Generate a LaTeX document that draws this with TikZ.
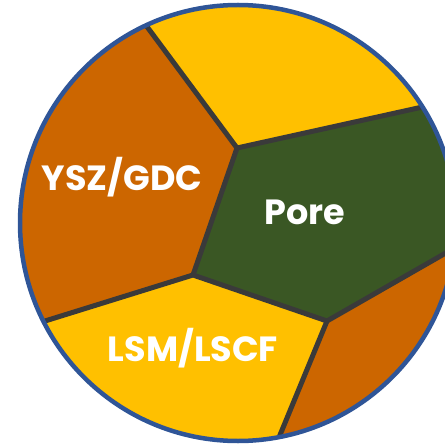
\documentclass[tikz,border=0pt]{standalone}
\usepackage{fontspec}
\setmainfont{Poppins}
\usetikzlibrary{calc}
\definecolor{ysz}{HTML}{CC6600}
\definecolor{lsm}{HTML}{FFC000}
\definecolor{pore}{HTML}{3A5724}
\definecolor{edge}{HTML}{3A3A3A}
\definecolor{rim}{HTML}{2F5597}
\tikzset{
  wall/.style={draw=edge, line width=5pt, line join=round},
  label/.style={text=white, font=\fontsize{35}{40}\selectfont\bfseries, inner sep=0pt}
}
\begin{document}
\begin{tikzpicture}[x=1pt,y=-1pt]
\useasboundingbox (0,0) rectangle (444,446);
\coordinate (O) at (238,223);
\coordinate (A) at (148,28);
\coordinate (B) at (237,148);
\coordinate (C) at (418,108);
\coordinate (D) at (193,275);
\coordinate (E) at (45,321);
\coordinate (F) at (327,321);
\coordinate (G) at (444,254);
\coordinate (H) at (280,435);
\coordinate (Ax) at ($(B)!1.4!(A)$);
\coordinate (Cx) at ($(B)!1.3!(C)$);
\coordinate (Ex) at ($(D)!1.4!(E)$);
\coordinate (Gx) at ($(F)!1.6!(G)$);
\coordinate (Hx) at ($(F)!1.4!(H)$);
\begin{scope}
  \clip (O) circle (218);
  \fill[ysz] (O) circle (220);
  \fill[lsm] (Ax) -- (B) -- (Cx) -- (Cx |- 0,-40) -- (Ax |- 0,-40) -- cycle;
  \fill[pore] (B) -- (Cx) -- ++(60,0) -- (Gx) -- (F) -- (D) -- cycle;
  \fill[lsm] (Ex) -- (D) -- (F) -- (Hx) -- (Hx |- 0,480) -- (-40,480) -- (-40,0 |- Ex) -- cycle;
  \draw[wall] (Ax) -- (B) -- (Cx);
  \draw[wall] (B) -- (D);
  \draw[wall] (Ex) -- (D) -- (F) -- (Gx);
  \draw[wall] (F) -- (Hx);
\end{scope}
\draw[rim, line width=4.5pt] (O) circle (218);
\node[label] (t1) at (122,177) {YSZ/GDC};
\node[label] (t2) at (305,212) {Pore};
\node[label] (t3) at (193,348) {LSM/LSCF};
\end{tikzpicture}
\end{document}
